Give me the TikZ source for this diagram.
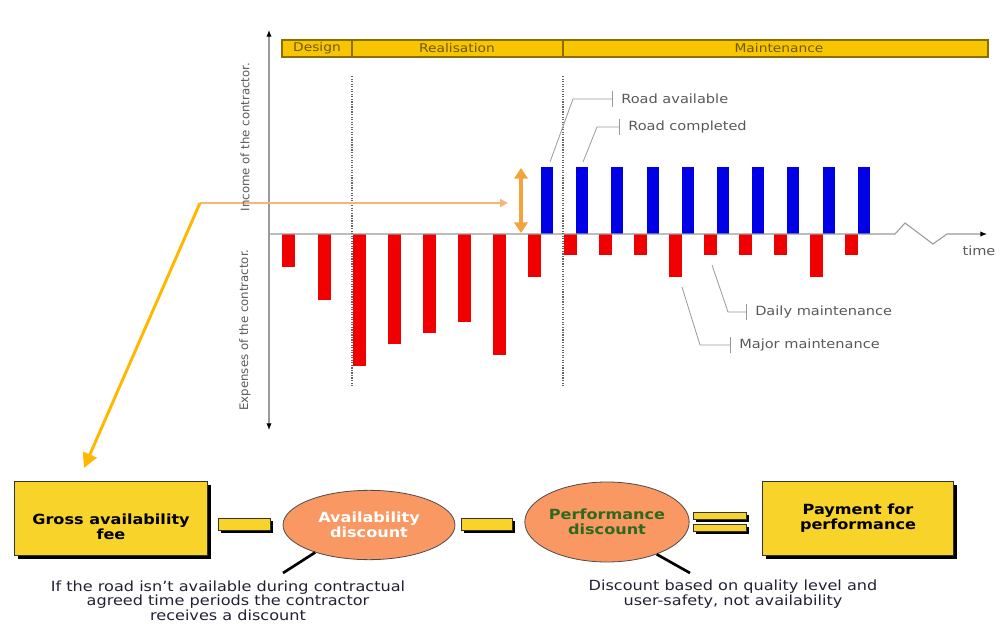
\documentclass[tikz,border=0pt]{standalone}
\usepackage{fontspec}
\setmainfont{DejaVu Sans}
\newfontfamily\widefont[FakeStretch=1.15]{DejaVu Sans}
\usetikzlibrary{arrows.meta, shapes.geometric, shadows}

\definecolor{phaseyellow}{HTML}{F7C600}
\definecolor{phaseline}{HTML}{8C6D00}
\definecolor{phasetext}{HTML}{6E5800}
\definecolor{barred}{HTML}{F00000}
\definecolor{barblue}{HTML}{0000E6}
\definecolor{axisgray}{HTML}{9A9A9A}
\definecolor{gapcol}{HTML}{F2A33A}
\definecolor{feecol}{HTML}{F7B57A}
\definecolor{goldcol}{HTML}{FFB800}
\definecolor{boxyellow}{HTML}{F8D32A}
\definecolor{discount}{HTML}{F99863}
\definecolor{perfgreen}{HTML}{2E6A1E}
\definecolor{notecol}{HTML}{222233}

\tikzset{
  income/.style={fill=barblue},
  expense/.style={fill=barred},
  phasebox/.style={fill=phaseyellow, draw=phaseline, line width=0.8pt},
  phaselbl/.style={font=\widefont\fontsize{9}{10}\selectfont, text=phasetext},
  axlbl/.style={font=\fontsize{8.8}{10}\selectfont, text=black!65, rotate=90},
  lbl/.style={font=\widefont\fontsize{9.5}{10}\selectfont, text=black!65, anchor=west, inner xsep=6pt, inner ysep=1pt},
  leader/.style={draw=black!40, line width=0.6pt, -{Bar[width=12pt]}},
  sumbox/.style={rectangle, draw=black!80, fill=boxyellow, line width=0.6pt,
    minimum width=145pt, minimum height=55pt, align=center,
    font=\widefont\bfseries\fontsize{10.5}{11.25}\selectfont,
    drop shadow={shadow xshift=2.5pt, shadow yshift=-2.5pt, fill=black, opacity=1}},
  boxtxt/.style={align=center, font=\widefont\bfseries\fontsize{10.5}{11.25}\selectfont},
  opbar/.style={rectangle, draw=black!80, fill=boxyellow, line width=0.5pt, inner sep=0pt,
    drop shadow={shadow xshift=2pt, shadow yshift=-2pt, fill=black, opacity=1}},
  disc/.style={ellipse, draw=black!70, fill=discount, line width=0.6pt, align=center,
    inner sep=0pt, font=\widefont\bfseries\fontsize{10.5}{11.25}\selectfont},
  note/.style={align=center, text=notecol, font=\widefont\fontsize{10.5}{11}\selectfont},
  callout/.style={line width=2pt, black}
}

\begin{document}
\begin{tikzpicture}[x=0.75pt, y=-0.75pt]
\useasboundingbox (0,0) rectangle (1008,624);

% phases
\draw[phasebox] (282,40) rectangle (988,57);
\draw[phaseline, line width=0.8pt] (352,40) -- (352,57);
\draw[phaseline, line width=0.8pt] (563,40) -- (563,57);
\node[phaselbl] (design) at (317,48.5) {Design};
\node[phaselbl] (realis) at (457,48.5) {Realisation};
\node[phaselbl] (maint) at (779,48.5) {Maintenance};

% bars
\foreach \bx/\by in {288/267, 324/300, 359/366, 394/344, 429/333, 464/322, 499/355, 534/277}
  \fill[expense] (\bx-6.5,234) rectangle (\bx+6.5,\by);
\foreach \i in {0,...,9}
  \fill[income] (541+35.2*\i,167) rectangle (553+35.2*\i,234);
\foreach \bx/\by in {570/255, 605/255, 640/255, 675/277, 710/255, 745/255, 780/255, 816/277, 851/255}
  \fill[expense] (\bx-6.5,234) rectangle (\bx+6.5,\by);

% axes
\draw[axisgray, line width=0.8pt, {Latex[length=5pt,width=4pt,black]}-{Latex[length=5pt,width=4pt,black]}] (269,30) -- (269,430);
\draw[axisgray, line width=0.8pt, -{Latex[length=5pt,width=4pt,black]}] (269,234) -- (895,234) -- (905,223) -- (933,244) -- (947,234) -- (987,234);
\node[font=\widefont\fontsize{9.5}{10}\selectfont, text=black!65] (time) at (979,251) {time};

% phase borders
\draw[black!60, line width=0.9pt, densely dotted] (352,76) -- (352,387);
\draw[black!60, line width=0.9pt, densely dotted] (563,76) -- (563,387);

% labels
\coordinate (tipA) at (550,162);
\coordinate (tipB) at (583,162);
\coordinate (tipC) at (712,265);
\coordinate (tipD) at (682,287);
\node[lbl] (ravail) at (613,99) {Road available};
\node[lbl] (rcompl) at (620,127) {Road completed};
\node[lbl] (daily) at (747,312) {Daily maintenance};
\node[lbl] (major) at (731,345) {Major maintenance};
\draw[leader] (tipA) -- (573,99) -- (ravail.west);
\draw[leader] (tipB) -- (597,127) -- (rcompl.west);
\draw[leader] (tipC) -- (728,312) -- (daily.west);
\draw[leader] (tipD) -- (700,345) -- (major.west);

% availability fee arrows
\draw[gapcol, line width=2.5pt, {Triangle[length=8pt,width=10pt]}-{Triangle[length=8pt,width=10pt]}] (521,168) -- (521,233);
\coordinate (feeOrigin) at (200,203);
\coordinate (feeTip) at (508,203);
\coordinate (feeEnd) at (84,468);
\draw[feecol, line width=1.5pt, -{Triangle[length=6pt,width=6pt]}] (feeOrigin) -- (feeTip);
\node[axlbl] (incomelbl) at (245,137) {Income of the contractor.};
\node[axlbl] (expenselbl) at (245,330) {Expenses of the contractor.};

% payment chain
\node[sumbox] (gross) at (111,518.5) {};
\node[boxtxt] (grosslbl) at (111,527) {Gross availability\\fee};
\node[opbar, minimum width=39pt, minimum height=9pt] (minusA) at (244,524.5) {};
\node[disc, text=white, minimum width=129pt, minimum height=52pt] (avail) at (369,525) {Availability\\discount};
\node[opbar, minimum width=38pt, minimum height=9pt] (minusB) at (487,524.5) {};
\node[disc, text=perfgreen, minimum width=120pt, minimum height=60pt] (perf) at (607,522) {Performance\\discount};
\node[opbar, minimum width=40pt, minimum height=5pt] (eqA) at (720,515.5) {};
\node[opbar, minimum width=40pt, minimum height=5pt] (eqB) at (720,528) {};
\node[sumbox, minimum width=143pt] (pay) at (858,518.5) {Payment for\\performance};

\draw[goldcol, line width=2.2pt, -{Triangle[length=11pt,width=11pt]}] (feeOrigin) -- (feeEnd);

% notes
\node[note] (noteA) at (228,600.5) {If the road isn’t available during contractual\\agreed time periods the contractor\\receives a discount};
\node[note] (noteB) at (733,594) {Discount based on quality level and\\user-safety, not availability};
\coordinate (calloutA) at (283,573);
\coordinate (calloutB) at (690,573);
\draw[callout] (avail.207) -- (calloutA);
\draw[callout] (perf.327) -- (calloutB);
\end{tikzpicture}
\end{document}
